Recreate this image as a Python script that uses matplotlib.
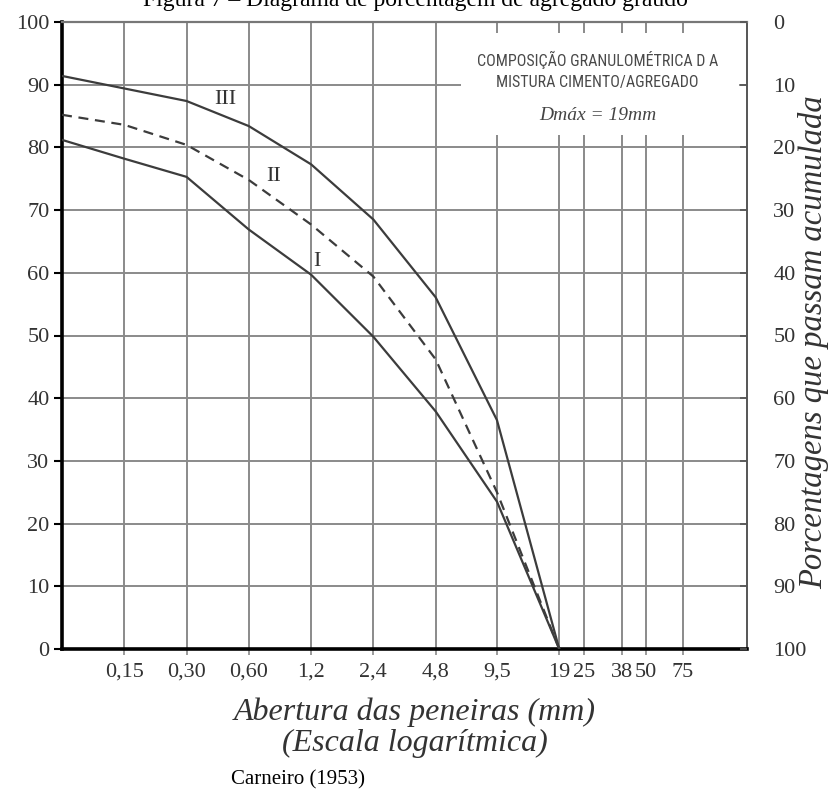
import matplotlib
matplotlib.use("Agg")
import matplotlib.pyplot as plt
from matplotlib.patches import Rectangle

# Sieve openings (mm) used as curve vertices; 0.075 is the left edge of the chart
openings = [0.075, 0.15, 0.30, 0.60, 1.2, 2.4, 4.8, 9.5, 19]

# Cumulative percentage retained for the three gradings
curve_I = [81.2, 78.2, 75.3, 66.9, 59.7, 49.8, 37.9, 23.5, 0]
curve_II = [85.2, 83.6, 80.4, 74.8, 67.7, 59.4, 46.2, 25.0, 0]
curve_III = [91.4, 89.4, 87.4, 83.4, 77.3, 68.5, 56.1, 36.5, 0]

# Sieve grid lines and their labels
sieve_ticks = [0.15, 0.30, 0.60, 1.2, 2.4, 4.8, 9.5, 19, 25, 38, 50, 75]
sieve_labels = ["0,15", "0,30", "0,60", "1,2", "2,4", "4,8", "9,5",
                "19", "25", "38", "50", "75"]
retained_ticks = list(range(0, 101, 10))

serif = "Liberation Serif"
ink = "#333333"
grid_c = "#8a8a8a"
line_c = "#3c3c3c"

fig = plt.figure(figsize=(8.34, 7.96), dpi=100)
ax = fig.add_axes([62 / 834, 1 - 649 / 796, (747 - 62) / 834, (649 - 22) / 796])

ax.set_xscale("log", base=2)
ax.set_xlim(0.075, 0.075 * 2 ** 11)
ax.set_ylim(0, 100)

ax.set_xticks(sieve_ticks)
ax.set_xticklabels(sieve_labels)
ax.xaxis.set_minor_locator(matplotlib.ticker.NullLocator())
ax.set_yticks(retained_ticks)
ax.set_yticklabels([str(v) for v in retained_ticks])

ax.set_axisbelow(True)
ax.grid(True, color=grid_c, lw=1.4, zorder=0.5)

for lab in ax.get_xticklabels() + ax.get_yticklabels():
    lab.set_fontfamily(serif)
    lab.set_fontsize(16)
    lab.set_color(ink)
ax.tick_params(axis="x", length=4, width=1.2, color=grid_c, pad=6)
ax.tick_params(axis="y", length=6, width=1.5, color="black", pad=3)

ax.spines["left"].set_linewidth(2.6)
ax.spines["left"].set_color("black")
ax.spines["bottom"].set_linewidth(2.6)
ax.spines["bottom"].set_color("black")
ax.spines["top"].set_linewidth(1.6)
ax.spines["top"].set_color("#777777")
ax.spines["right"].set_linewidth(1.4)
ax.spines["right"].set_color("#555555")

# Curves
ax.plot(openings, curve_III, color=line_c, lw=1.6, zorder=3)
ax.plot(openings, curve_II, color=line_c, lw=1.6, ls=(0, (4.5, 3)), zorder=3)
ax.plot(openings, curve_I, color=line_c, lw=1.6, zorder=3)

ax.text(0.46, 87.6, "III", family=serif, fontsize=16, color=ink, ha="center", va="center", zorder=4)
ax.text(0.79, 75.4, "II", family=serif, fontsize=16, color=ink, ha="center", va="center", zorder=4)
ax.text(1.28, 61.8, "I", family=serif, fontsize=16, color=ink, ha="center", va="center", zorder=4)

# Legend box with the mixture description
box = Rectangle((0.583, 0.82), 0.405, 0.162, transform=ax.transAxes,
                facecolor="white", edgecolor="none", zorder=1)
ax.add_patch(box)
narrow = ["Roboto Condensed", "Roboto", "DejaVu Sans"]
ax.text(0.782, 0.939, "COMPOSIÇÃO GRANULOMÉTRICA D A", transform=ax.transAxes,
        family=narrow, fontsize=11.5, color="#4a4a4a", ha="center", va="center", zorder=4)
ax.text(0.782, 0.904, "MISTURA CIMENTO/AGREGADO", transform=ax.transAxes,
        family=narrow, fontsize=11.5, color="#4a4a4a", ha="center", va="center", zorder=4)
ax.text(0.782, 0.851, "Dmáx = 19mm", transform=ax.transAxes,
        family=serif, style="italic", fontsize=14, color="#444444", ha="center", va="center", zorder=4)

# Right-hand scale: cumulative percentage passing
ax2 = ax.twinx()
ax2.set_ylim(100, 0)
ax2.set_yticks(retained_ticks)
ax2.set_yticklabels([str(v) for v in retained_ticks])
for lab in ax2.get_yticklabels():
    lab.set_fontfamily(serif)
    lab.set_fontsize(16)
    lab.set_color(ink)
ax2.tick_params(axis="y", direction="in", length=5, width=1.2, color="#555555", pad=19)
for s in ax2.spines.values():
    s.set_visible(False)

fig.text(814 / 834, 1 - 342 / 796, "Porcentagens que passam acumulada",
         family=serif, style="italic", fontsize=23.5, color=ink,
         rotation=90, ha="center", va="center")

fig.text(415 / 834, 1 - 712 / 796, "Abertura das peneiras (mm)",
         family=serif, style="italic", fontsize=23, color=ink, ha="center", va="center")
fig.text(415 / 834, 1 - 743 / 796, "(Escala logarítmica)",
         family=serif, style="italic", fontsize=23, color=ink, ha="center", va="center")
fig.text(298 / 834, 1 - 780 / 796, "Carneiro (1953)",
         family=serif, fontsize=15, color="black", ha="center", va="center")

fig.text(415 / 834, 1 - 6 / 796, "Figura 7 – Diagrama de porcentagem de agregado graúdo",
         family=serif, fontsize=17, color="black", ha="center", va="baseline")

fig.savefig("out.png", dpi=100)
